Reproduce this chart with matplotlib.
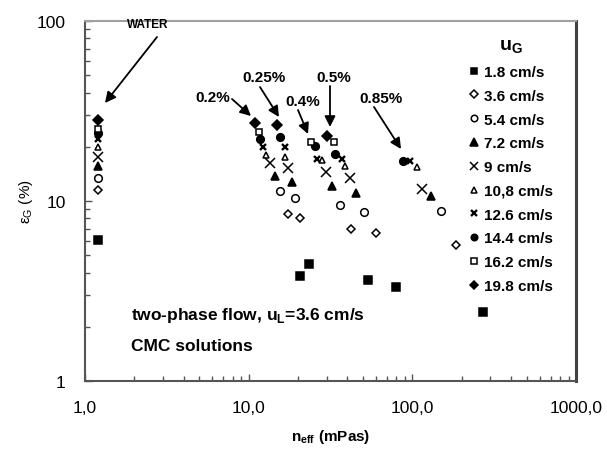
import numpy as np
import matplotlib.pyplot as plt
from matplotlib.ticker import FixedLocator, LogLocator, NullFormatter

plt.rcParams['font.family'] = ['Liberation Sans', 'DejaVu Sans']
plt.rcParams['mathtext.fontset'] = 'custom'
plt.rcParams['mathtext.rm'] = 'Liberation Sans'
plt.rcParams['mathtext.bf'] = 'Liberation Sans:bold'

nan = np.nan

# kolejność kolumn: woda, 0.2%, 0.25%, 0.4%, 0.5%, 0.85% CMC
ug_1_8_x = [1.2, 20.6, 23.4, 53.3, 79.4, 269]
ug_1_8_y = [6.1, 3.85, 4.45, 3.64, 3.34, 2.43]
ug_3_6_x = [1.2, 17.5, 20.6, 41.9, 60, 186]
ug_3_6_y = [11.5, 8.5, 8.0, 7.0, 6.6, 5.7]
ug_5_4_x = [1.2, 15.5, 19.2, 35.9, 50.6, 149]
ug_5_4_y = [13.4, 11.3, 10.4, 9.5, 8.7, 8.8]
ug_7_2_x = [1.2, 14.5, 18.3, 32.5, 45.2, 130]
ug_7_2_y = [15.6, 13.8, 12.8, 12.1, 11.1, 10.7]
ug_9_x = [1.2, 13.5, 17.5, 29.6, 41.6, 114]
ug_9_y = [17.5, 16.3, 15.2, 14.5, 13.5, 11.7]
ug_10_8_x = [1.2, 12.7, 16.7, 27.9, 38.7, 107]
ug_10_8_y = [19.9, 18.0, 17.5, 17.0, 15.7, 15.5]
ug_12_6_x = [1.2, 12.3, 16.7, 26.0, 37.0, 96.7]
ug_12_6_y = [22.0, 19.9, 19.9, 17.1, 17.1, 16.6]
ug_14_4_x = [1.2, 11.7, 15.5, 25.4, 33.7, 88]
ug_14_4_y = [24.0, 22.1, 22.6, 20.3, 18.2, 16.6]
ug_16_2_x = [1.2, 11.6, nan, 24.2, 33.2, nan]
ug_16_2_y = [25.0, 24.3, nan, 21.4, 21.4, nan]
ug_19_8_x = [1.2, 10.9, 14.9, nan, 29.9, nan]
ug_19_8_y = [28.3, 27.1, 26.5, nan, 22.9, nan]

etykiety = ['1.8 cm/s', '3.6 cm/s', '5.4 cm/s', '7.2 cm/s', '9 cm/s',
            '10,8 cm/s', '12.6 cm/s', '14.4 cm/s', '16.2 cm/s', '19.8 cm/s']
x_ticks = [1, 10, 100, 1000]
x_tick_labels = ['1,0', '10,0', '100,0', '1000,0']
y_ticks = [1, 10, 100]
y_tick_labels = ['1', '10', '100']

# (tekst, środek tekstu, początek strzałki, grot strzałki) w pikselach obrazka
stezenia = [
    ('WATER', (148, 25), (157, 38), (105, 104)),
    ('0.2%', (213, 98), (232, 100), (251, 117)),
    ('0.25%', (264, 78), (260, 88), (279, 118)),
    ('0.4%', (303, 102), (298, 111), (308, 135)),
    ('0.5%', (334, 78), (330, 87), (330, 128)),
    ('0.85%', (381, 99), (374, 108), (401, 150)),
]

serie = [
    (ug_1_8_x, ug_1_8_y, dict(marker='s', mfc='black', ms=5.5)),
    (ug_3_6_x, ug_3_6_y, dict(marker='D', mfc='white', ms=4.5)),
    (ug_5_4_x, ug_5_4_y, dict(marker='o', mfc='white', ms=5.5)),
    (ug_7_2_x, ug_7_2_y, dict(marker='^', mfc='black', ms=6)),
    (ug_9_x, ug_9_y, dict(marker='x', ms=6.5, mew=1.1)),
    (ug_10_8_x, ug_10_8_y, dict(marker='^', mfc='white', ms=5)),
    (ug_12_6_x, ug_12_6_y, dict(marker='x', ms=5, mew=1.7)),
    (ug_14_4_x, ug_14_4_y, dict(marker='o', mfc='black', ms=5.5)),
    (ug_16_2_x, ug_16_2_y, dict(marker='s', mfc='white', ms=4.8)),
    (ug_19_8_x, ug_19_8_y, dict(marker='D', mfc='black', ms=5)),
]

W, H = 607, 452
fig = plt.figure(figsize=(W / 100, H / 100), dpi=100)
ax = fig.add_axes([85 / W, 1 - 382 / H, 491 / W, 360 / H])

for (xs, ys, styl), etykieta in zip(serie, etykiety):
    kw = dict(mec='black', color='black', mew=1.1, ls='none')
    kw.update(styl)
    ax.plot(xs, ys, label=etykieta, **kw)

ax.set_xscale('log')
ax.set_yscale('log')
ax.set_xlim(1, 1000)
ax.set_ylim(1, 100)
ax.xaxis.set_major_locator(FixedLocator(x_ticks))
ax.set_xticklabels(x_tick_labels)
ax.yaxis.set_major_locator(FixedLocator(y_ticks))
ax.set_yticklabels(y_tick_labels)
ax.xaxis.set_minor_locator(LogLocator(base=10, subs=np.arange(2, 10)))
ax.yaxis.set_minor_locator(LogLocator(base=10, subs=np.arange(2, 10)))
ax.xaxis.set_minor_formatter(NullFormatter())
ax.yaxis.set_minor_formatter(NullFormatter())
ax.tick_params(which='both', direction='in', color='#555555', labelsize=12.5)
ax.tick_params(which='major', length=5, width=1)
ax.tick_params(which='minor', length=3.5, width=1)
ax.tick_params(axis='x', pad=14)
ax.tick_params(axis='y', pad=14)

for strona in ['left', 'bottom']:
    ax.spines[strona].set_color('#555555')
    ax.spines[strona].set_linewidth(1.5)
ax.spines['top'].set_color('#a0a0a0')
ax.spines['top'].set_linewidth(1.5)
ax.spines['right'].set_color('#404040')
ax.spines['right'].set_linewidth(2.2)

ax.set_xlabel(r'n$_{\mathregular{eff}}$ (mPas)', fontweight='bold', fontsize=11, labelpad=8)
ax.set_ylabel(r'$\mathregular{\varepsilon}_{\mathregular{G}}$ (%)', fontsize=11, labelpad=1)

leg = ax.legend(loc='upper left', bbox_to_anchor=(0.765, 0.977), frameon=False,
                handlelength=0.7, handletextpad=0.3, labelspacing=0.64,
                borderpad=0, markerscale=0.85,
                prop=dict(weight='bold', size=11),
                title=r'$\mathbf{u}_{\mathbf{G}}$', title_fontsize=14)

for tekst, (tx, ty), (ox, oy), (gx, gy) in stezenia:
    ax.annotate('', xy=(gx, H - gy), xycoords='figure pixels',
                xytext=(ox, H - oy), textcoords='figure pixels',
                arrowprops=dict(arrowstyle='-|>', color='black', lw=1.3,
                                mutation_scale=16, shrinkA=0, shrinkB=0))
    rozmiar = 8.5 if tekst == 'WATER' else 11
    fig.text(tx / W, 1 - ty / H, tekst, ha='center', va='center',
             fontweight='bold', fontsize=rozmiar)

ax.text(0.094, 0.172, r'two-phase flow, u$_{\mathregular{L}}$=3.6 cm/s',
        transform=ax.transAxes, fontweight='bold', fontsize=12.5)
ax.text(0.094, 0.087, 'CMC solutions', transform=ax.transAxes,
        fontweight='bold', fontsize=12.5)

fig.savefig('out.png', dpi=100)
